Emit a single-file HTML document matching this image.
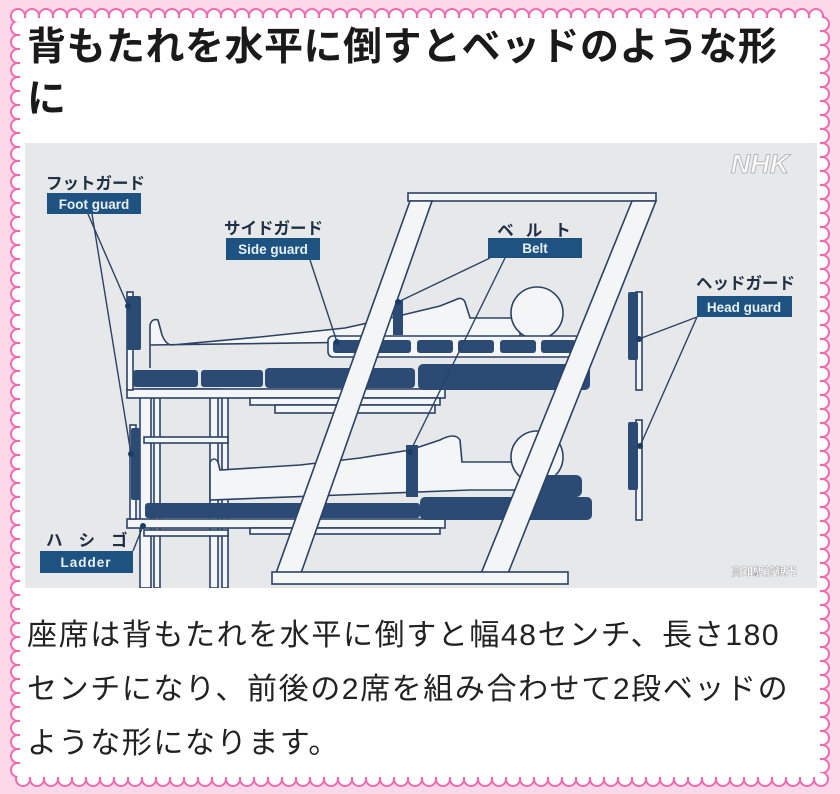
<!DOCTYPE html>
<html><head><meta charset="utf-8"><style>
html,body{margin:0;padding:0;}
body{width:840px;height:794px;background:#fcd8e9;position:relative;overflow:hidden;font-family:"Liberation Sans","Noto Sans CJK JP",sans-serif;}
#frame{position:absolute;left:0;top:0;}
.title{position:absolute;left:27px;top:22px;font-size:39px;font-weight:bold;line-height:52px;color:#1a1a1a;width:790px;letter-spacing:0.5px;}
.body{position:absolute;left:27px;top:609px;font-size:30px;line-height:54px;color:#222;width:790px;letter-spacing:1.6px;}
#dia{position:absolute;left:25px;top:143px;}
</style></head><body>
<svg id="frame" width="840" height="794">
  <rect x="18" y="16" width="804" height="763" fill="#fff"/>
  <rect x="18" y="16" width="804" height="763" fill="none" stroke="#f06ab0" stroke-width="16" stroke-dasharray="0 14" stroke-linecap="round"/>
  <rect x="18" y="16" width="804" height="763" fill="none" stroke="#fff" stroke-width="12" stroke-dasharray="0 14" stroke-linecap="round"/>
  <rect x="20" y="18" width="800" height="759" fill="#fff"/>
</svg>
<div class="title">背もたれを水平に倒すとベッドのような形<br>に</div>
<svg id="dia" width="792" height="445" viewBox="25 143 792 445">
  <rect x="25" y="143" width="792" height="445" fill="#e7e8ea"/>
  <g stroke="#2b4266" stroke-width="1.6" fill="#f4f5f6">
    <rect x="140" y="392" width="11" height="196"/>
    <rect x="154" y="392" width="6" height="196"/>
    <rect x="210" y="392" width="8" height="196"/>
    <rect x="222" y="392" width="6" height="196"/>
    <rect x="140" y="389" width="80" height="7"/>
    <rect x="144" y="437" width="84" height="6"/>
    <rect x="144" y="530" width="84" height="6"/>
    <rect x="127" y="389" width="318" height="9"/>
    <rect x="250" y="398" width="190" height="7"/>
    <rect x="275" y="405" width="160" height="8"/>
    <rect x="127" y="519" width="318" height="9"/>
    <rect x="250" y="528" width="190" height="6"/>
    <rect x="127" y="292" width="6" height="98"/>
    <rect x="130" y="425" width="6" height="94"/>
    <rect x="636" y="292" width="6" height="98"/>
    <rect x="636" y="420" width="6" height="100"/>
    <path d="M150 368 L150 325 Q152 318 158 320 L162 335 Q166 345 172 345 L260 337 L345 328 L390 318 L440 306 L455 300 Q462 296 465 302 L470 318 L520 318 L520 340 L150 345 Z"/>
    <circle cx="537" cy="313" r="26"/>
    <path d="M210 500 L210 462 Q214 456 218 462 L220 470 L300 465 L360 458 L410 450 L440 440 Q455 432 460 440 L462 462 L520 462 Q530 468 520 490 L470 490 L210 500 Z"/>
    <circle cx="537" cy="457" r="26"/>
  </g>
  <g fill="#2b4a74">
    <rect x="133" y="370" width="65" height="17" rx="3"/>
    <rect x="201" y="370" width="62" height="17" rx="3"/>
    <rect x="265" y="368" width="150" height="20" rx="4"/>
    <rect x="418" y="364" width="172" height="26" rx="5"/>
    <rect x="145" y="503" width="275" height="15" rx="3"/>
    <rect x="420" y="497" width="172" height="23" rx="5"/>
    <rect x="530" y="475" width="52" height="22" rx="6"/>
    <rect x="127" y="296" width="14" height="54" rx="2"/>
    <rect x="131" y="428" width="9" height="72" rx="2"/>
    <rect x="628" y="292" width="10" height="68" rx="2"/>
    <rect x="628" y="422" width="10" height="68" rx="2"/>
    <rect x="393" y="300" width="10" height="35"/>
    <rect x="406" y="445" width="12" height="52"/>
  </g>
  <rect x="328" y="336" width="252" height="21" rx="5" fill="#f4f5f6" stroke="#2b4266" stroke-width="1.6"/>
  <g fill="#2b4a74">
    <rect x="333" y="340" width="32" height="13" rx="3"/>
    <rect x="375" y="340" width="36" height="13" rx="3"/>
    <rect x="417" y="340" width="36" height="13" rx="3"/>
    <rect x="458" y="340" width="36" height="13" rx="3"/>
    <rect x="500" y="340" width="36" height="13" rx="3"/>
    <rect x="541" y="340" width="35" height="13" rx="3"/>
  </g>
  <g stroke="#2b4266" stroke-width="1.6" fill="#f4f5f6">
    <rect x="408" y="193" width="248" height="8"/>
    <polygon points="410,201 432,201 300,576 275,576"/>
    <polygon points="632,201 656,201 507,576 480,576"/>
    <rect x="272" y="572" width="296" height="12"/>
  </g>
  <g stroke="#2b4266" stroke-width="1.4" fill="none">
    <line x1="88" y1="214" x2="128" y2="306"/>
    <line x1="92" y1="214" x2="131" y2="454"/>
    <line x1="310" y1="260" x2="337" y2="342"/>
    <line x1="490" y1="258" x2="398" y2="302"/>
    <line x1="505" y1="258" x2="410" y2="452"/>
    <line x1="697" y1="317" x2="639" y2="339"/>
    <line x1="697" y1="317" x2="640" y2="446"/>
    <line x1="133" y1="551" x2="143" y2="526"/>
  </g>
  <g fill="#1c3d63">
    <circle cx="128" cy="306" r="3"/><circle cx="131" cy="454" r="3"/>
    <circle cx="337" cy="342" r="3"/><circle cx="398" cy="302" r="3"/>
    <circle cx="410" cy="452" r="3"/><circle cx="639" cy="339" r="3"/>
    <circle cx="640" cy="446" r="3"/><circle cx="143" cy="526" r="3"/>
  </g>
  <g font-family="Liberation Sans, Noto Sans CJK JP, sans-serif" font-weight="bold">
    <text x="46" y="189" font-size="16.5" fill="#1f2f45">フットガード</text>
    <rect x="47" y="193" width="94" height="21" fill="#1e5280"/>
    <text x="94" y="209" font-size="13.5" fill="#e8f0f8" text-anchor="middle">Foot guard</text>
    <text x="224" y="234" font-size="16.5" fill="#1f2f45">サイドガード</text>
    <rect x="226" y="238" width="94" height="22" fill="#1e5280"/>
    <text x="273" y="254" font-size="13.5" fill="#e8f0f8" text-anchor="middle">Side guard</text>
    <text x="540" y="236" font-size="16.5" fill="#1f2f45" text-anchor="middle" letter-spacing="12">ベルト</text>
    <rect x="488" y="238" width="94" height="20" fill="#1e5280"/>
    <text x="535" y="253" font-size="13.5" fill="#e8f0f8" text-anchor="middle">Belt</text>
    <text x="696" y="289" font-size="16.5" fill="#1f2f45">ヘッドガード</text>
    <rect x="697" y="296" width="95" height="21" fill="#1e5280"/>
    <text x="744" y="312" font-size="13.5" fill="#e8f0f8" text-anchor="middle">Head guard</text>
    <text x="46" y="546" font-size="16.5" fill="#1f2f45" letter-spacing="16">ハシゴ</text>
    <rect x="40" y="551" width="93" height="22" fill="#1e5280"/>
    <text x="86" y="567" font-size="13.5" fill="#e8f0f8" text-anchor="middle" letter-spacing="1">Ladder</text>
    <text x="760" y="173" font-size="27" font-style="italic" fill="#fafafa" stroke="#b8b8b8" stroke-width="1" text-anchor="middle">NHK</text>
    <text x="764" y="575" font-size="11" fill="#fff" stroke="#888" stroke-width="0.3" text-anchor="middle">高知駅前観光</text>
  </g>
</svg>
<div class="body">座席は背もたれを水平に倒すと幅48センチ、長さ180<br>センチになり、前後の2席を組み合わせて2段ベッドの<br>ような形になります。</div>
</body></html>
